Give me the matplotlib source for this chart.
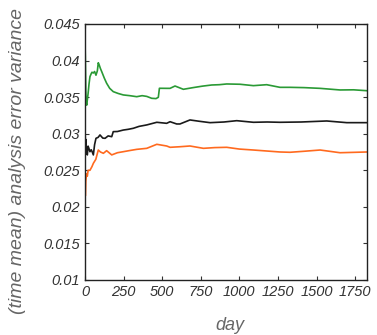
import matplotlib
matplotlib.use('Agg')
import matplotlib.pyplot as plt

# values
green_day = [0, 2, 5, 8, 11, 15, 20, 26, 32, 40, 45, 54, 62, 71, 80, 86, 92, 100, 108, 125, 140, 160, 183,
             215, 248, 290, 335, 370, 400, 432, 460, 475, 482,
             529, 551, 583, 594, 637, 700, 760, 821, 870, 918, 1004, 1091, 1177, 1263, 1328, 1420, 1523,
             1652, 1740, 1825]
green_val = [0.0425, 0.0405, 0.036, 0.0342, 0.0339, 0.0346, 0.0355, 0.0368, 0.0378, 0.0382, 0.0384, 0.0383,
             0.0385, 0.038, 0.0386, 0.0397, 0.0394, 0.0389, 0.0385, 0.0376, 0.0369, 0.0362, 0.03575,
             0.0355, 0.0353, 0.0352, 0.03506, 0.0352, 0.0351, 0.03484, 0.0348, 0.03498, 0.03621,
             0.0362, 0.0362, 0.03652, 0.03643, 0.03607, 0.0363, 0.0365, 0.03666, 0.0367, 0.0368, 0.03676,
             0.03657, 0.0367, 0.03634, 0.03634, 0.0363, 0.0362, 0.03598, 0.036, 0.03588]

black_day = [0, 3, 6, 8, 11, 15, 20, 25, 32, 40, 45, 54, 62, 71, 85, 97, 115, 130, 150, 173, 183, 210, 248,
             280, 313, 350, 400, 465, 529, 551, 594, 615, 680, 740, 810, 900, 983, 1091, 1180, 1263, 1400,
             1566, 1696, 1825]
black_val = [0.0307, 0.0285, 0.0292, 0.0278, 0.0273, 0.0271, 0.0283, 0.028, 0.02754, 0.0278, 0.0276, 0.0271,
             0.0285, 0.02937, 0.0295, 0.02983, 0.0294, 0.02937, 0.0297, 0.02959, 0.03028, 0.0303, 0.0305,
             0.0306, 0.03074, 0.031, 0.0312, 0.03156, 0.03142, 0.03164, 0.03133, 0.03133, 0.03188, 0.0317,
             0.03151, 0.0316, 0.03178, 0.03156, 0.0316, 0.03156, 0.0316, 0.03174, 0.03151, 0.03151]

orange_day = [0, 2, 5, 10, 15, 20, 32, 45, 54, 70, 86, 100, 119, 140, 173, 210, 248, 290, 335, 400, 465, 529,
              551, 616, 680, 767, 840, 918, 1000, 1091, 1263, 1328, 1420, 1523, 1652, 1825]
orange_val = [0.0265, 0.0215, 0.0235, 0.0245, 0.0242, 0.025, 0.025, 0.0255, 0.02595, 0.0265, 0.02777,
              0.0275, 0.02732, 0.02768, 0.0271, 0.0274, 0.02754, 0.0277, 0.02786, 0.028, 0.02855, 0.02832,
              0.02814, 0.02822, 0.02832, 0.028, 0.0281, 0.02814, 0.0279, 0.02777, 0.0275, 0.02746, 0.0276,
              0.02777, 0.0274, 0.0275]

xticks = [0, 250, 500, 750, 1000, 1250, 1500, 1750]
yticks = [0.01, 0.015, 0.02, 0.025, 0.03, 0.035, 0.04, 0.045]
ytick_labels = ['0.01', '0.015', '0.02', '0.025', '0.03', '0.035', '0.04', '0.045']

plt.rcParams['font.family'] = ['Liberation Sans', 'DejaVu Sans']

fig = plt.figure(figsize=(3.77, 3.35), dpi=100)
ax = fig.add_axes([0.2255, 0.1642, 0.7472, 0.7642])

ax.plot(green_day, green_val, color='#2a9a35', lw=1.2)
ax.plot(black_day, black_val, color='#1a1a1a', lw=1.2)
ax.plot(orange_day, orange_val, color='#ff6a1f', lw=1.2)

ax.set_xlim(0, 1825)
ax.set_ylim(0.01, 0.045)
ax.set_xticks(xticks)
ax.set_xticklabels([str(t) for t in xticks])
ax.set_yticks(yticks)
ax.set_yticklabels(ytick_labels)
ax.tick_params(direction='in', top=True, right=True, length=3, width=0.8,
               labelsize=10.5, labelcolor='#333333', color='#333333')
for lab in ax.get_xticklabels() + ax.get_yticklabels():
    lab.set_style('italic')
for s in ax.spines.values():
    s.set_linewidth(1.0)
    s.set_color('#222222')

ax.set_xlabel('day', fontsize=13, style='italic', color='#666666')
ax.xaxis.set_label_coords(0.515, -0.145)
ax.set_ylabel('(time mean) analysis error variance', fontsize=14, style='italic',
              color='#666666')
ax.yaxis.set_label_coords(-0.21, 0.465)

fig.savefig('out.png', dpi=100)
